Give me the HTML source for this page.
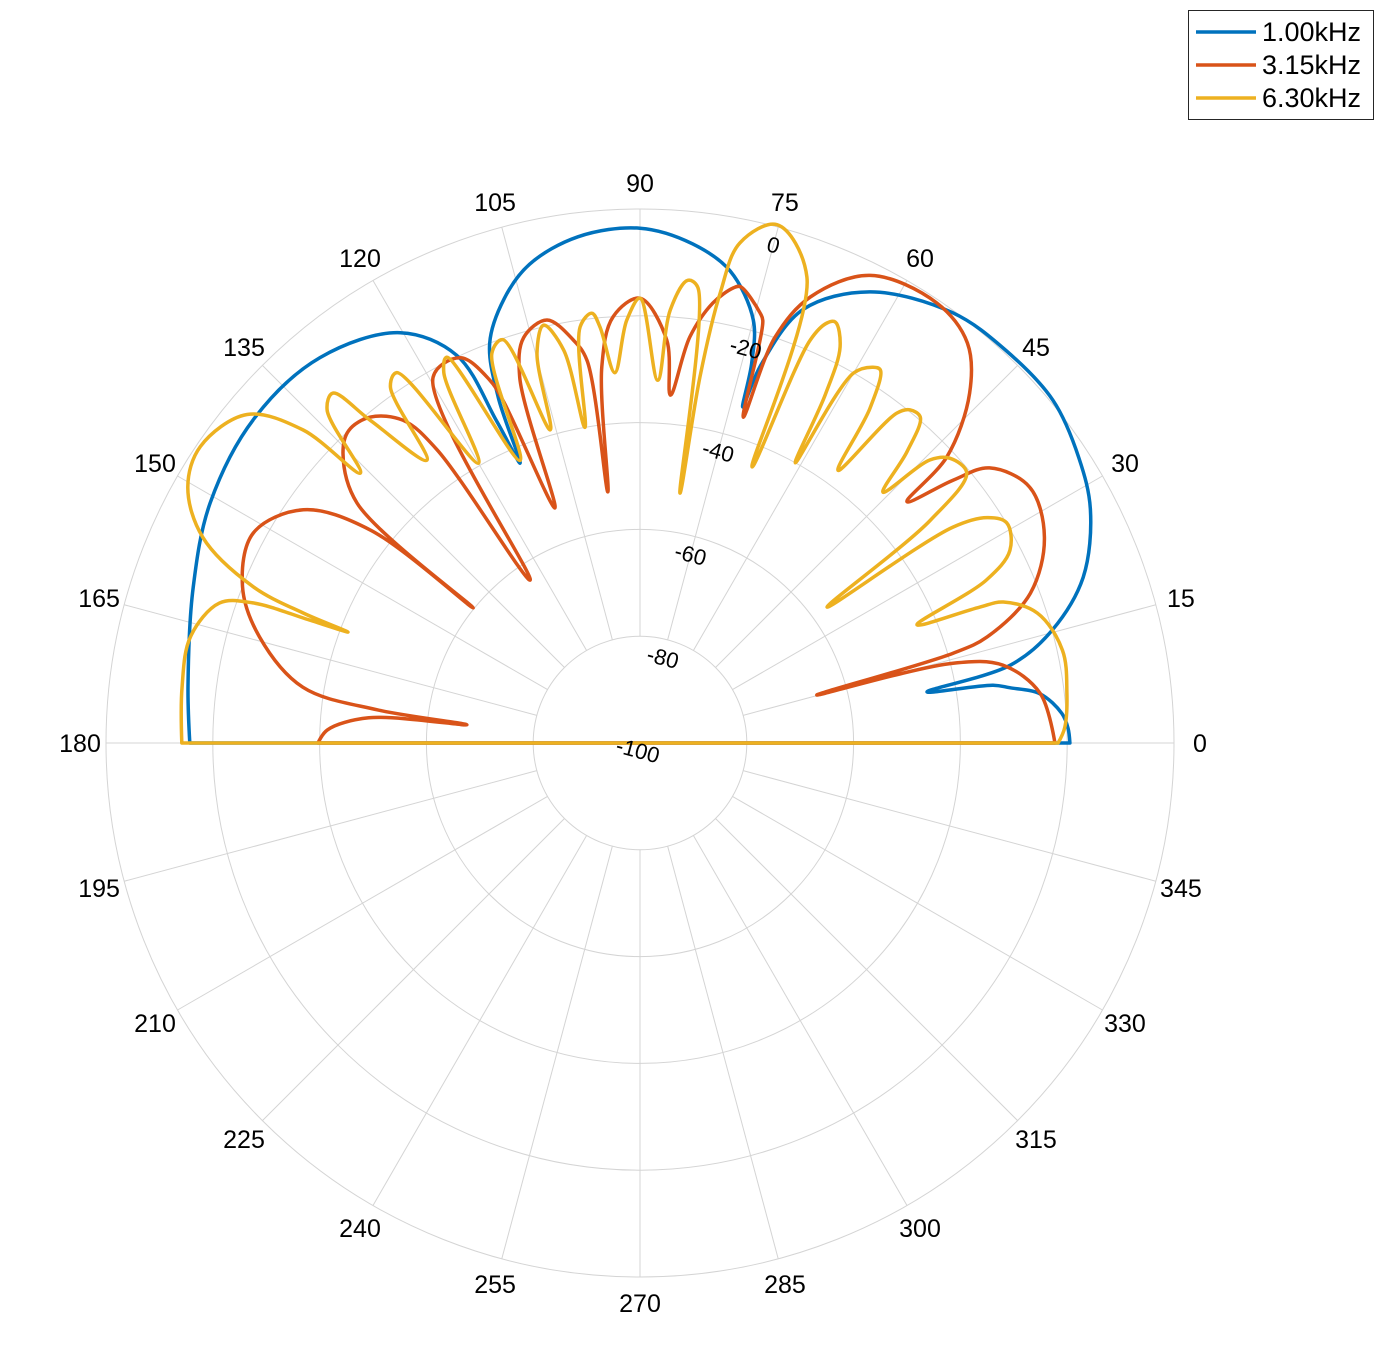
<!DOCTYPE html>
<html><head><meta charset="utf-8"><style>
html,body{margin:0;padding:0;background:#fff;}
svg{display:block;font-family:"Liberation Sans",Arial,sans-serif;}
</style></head><body>
<svg id="chart" width="1386" height="1348" viewBox="0 0 1386 1348">
<g id="grid"></g>
<g id="thetaLabels"></g>
<g id="series"></g>
<g id="rLabels"></g>
<g id="legend">
<rect x="1188.5" y="10.5" width="185" height="109" fill="#fff" stroke="#262626" stroke-width="1"/>
<g><line x1="1196" y1="32" x2="1256" y2="32" stroke="#0072BD" stroke-width="3.5"/><text x="1262" y="41" font-size="27" fill="#000">1.00kHz</text></g>
<g><line x1="1196" y1="65" x2="1256" y2="65" stroke="#D95319" stroke-width="3.5"/><text x="1262" y="74" font-size="27" fill="#000">3.15kHz</text></g>
<g><line x1="1196" y1="98" x2="1256" y2="98" stroke="#EDB120" stroke-width="3.5"/><text x="1262" y="107" font-size="27" fill="#000">6.30kHz</text></g>
</g>
</svg>
<script>
const rTicks = [-100, -80, -60, -40, -20, 0];
const thetaTicks = [0,15,30,45,60,75,90,105,120,135,150,165,180,195,210,225,240,255,270,285,300,315,330,345];
const blueAngles = [0,2,4,7,8.5,9.3,10.1,11.9,15.3,20.5,27.4,33,39.7,47,54,63,69.4,72.3,73,73.6,75,79.2,84,90,97,103,107,110.6,112.3,113.2,114,115.3,120.3,129.7,140,150.8,160.8,172.9,180];
const blueDb = [-19.5,-19.8,-20.8,-24.5,-30,-33,-45.4,-29,-20,-11.4,-5,-2,0.5,0.5,-0.4,-5.2,-13.3,-26,-34.2,-26,-18,-10,-6,-3.6,-4.5,-8,-13,-20,-30,-43,-34,-19.7,-11,-6.2,-5.6,-7.8,-11.4,-14.7,-15.7];
const redAngles = [0,7.1,12.1,14.3,15.2,16,17,21,27,33.3,38.2,40,42.1,43,46.7,50.7,56,63.8,69.1,71.6,72.4,73.8,74.4,77.6,78.4,80.6,83,85,86.2,90,93.6,95.8,97.3,97.9,99.4,102.4,106,108.2,109.9,111.8,112.5,115,119.5,124,124.7,126.3,129.6,133,135.7,139.7,141,141.7,145.3,151.5,158.5,164.4,170.6,172.8,174,174.7,177.6,180];
const redDb = [-22.3,-24.5,-30.5,-39.5,-65.7,-39,-32,-21.7,-15,-12.7,-16.7,-23.4,-32.6,-21.4,-10,-3.2,-0.6,-2.4,-10.6,-20,-36,-17.6,-16.4,-12.5,-13,-16.5,-23.4,-34.6,-24.4,-16.7,-20,-29.2,-52.6,-27.6,-23.5,-18.9,-21,-27.9,-53.2,-31,-26.4,-20.4,-21.3,-63.2,-33,-25,-20.8,-20,-22.3,-30.5,-59.8,-35.6,-23.3,-17.6,-20,-26,-36,-50.4,-67.4,-49,-41.4,-39.7];
const yellowAngles = [0,2.1,6.7,12.4,18.1,21.2,21.8,23.1,25.2,27.5,31,33,34.6,36,37.5,39.6,42.6,44.3,45.9,47.5,49.3,51,52.1,54,55.5,57.2,58.2,60,61,62,63.2,65.1,66,67.1,67.9,70.3,75.2,78.7,79.9,80.7,80.9,82.8,84.1,86,87.2,90,91.8,93.9,95.5,96.4,98.2,99.9,101,103,104.8,106,108.8,110.8,113,116.6,117.9,120,123.3,125,127,129.9,131.3,133.2,136,137.1,140.1,146,150.5,154.8,158,158.9,159.2,159.6,160.1,161.6,166.7,173,180];
const yellowDb = [-21.7,-20.4,-19.5,-19,-21.7,-27,-31.5,-43.6,-28.3,-21.9,-19.9,-22.5,-28.8,-56.7,-31.4,-20.6,-21.2,-24.1,-34.6,-26,-19.5,-19.7,-21.7,-36.9,-24,-16.9,-17.2,-20,-40,-26,-16.9,-13.1,-13.9,-18.1,-44.2,-7.3,0.4,-4.5,-14.4,-30.5,-52.6,-13.9,-12.9,-18.7,-32,-16.7,-20.8,-30.5,-21.7,-19,-21.3,-40,-25,-19.7,-24.5,-39,-20.2,-21.9,-42.5,-19.2,-21.5,-39.5,-17,-18.5,-33.7,-21.2,-12.8,-14.4,-27.2,-13.9,-4.1,-0.7,-2.7,-9.5,-21.9,-32.4,-41.5,-34,-22.9,-17,-13.5,-13.6,-14.2];

const NS = "http://www.w3.org/2000/svg";
const CX = 640, CY = 743, RMAX = 534, RMIN_DB = -100, RMAX_DB = 0;
function rScale(db){ return (db - RMIN_DB) / (RMAX_DB - RMIN_DB) * RMAX; }
function px(deg, db){ const a = deg*Math.PI/180, r = rScale(db); return [CX + r*Math.cos(a), CY - r*Math.sin(a)]; }
function mk(tag, attrs, parent){ const e = document.createElementNS(NS, tag); for (const k in attrs) e.setAttribute(k, attrs[k]); parent.appendChild(e); return e; }

const grid = document.getElementById('grid');
rTicks.forEach(function(t){
  if (t === RMIN_DB) return;
  const c = mk('circle', {cx: CX, cy: CY, r: rScale(t), fill: 'none', stroke: '#d4d4d4', 'stroke-width': 1}, grid);
  
  
});
thetaTicks.forEach(function(t){
  const p1 = px(t, rTicks[1]), p2 = px(t, RMAX_DB);
  const l = mk('line', {x1: p1[0], y1: p1[1], x2: p2[0], y2: p2[1], stroke: '#d4d4d4', 'stroke-width': 1}, grid);
  
  
});
const tl = document.getElementById('thetaLabels');
thetaTicks.forEach(function(t){
  const a = t*Math.PI/180, r = 560;
  const e = mk('text', {x: CX + r*Math.cos(a), y: CY - r*Math.sin(a) + 9, 'text-anchor': 'middle', 'font-size': 25, fill: '#000'}, tl);
  e.textContent = String(t);
  
  
});
const rl = document.getElementById('rLabels');
rTicks.forEach(function(t){
  let x, y;
  if (t === RMIN_DB) { x = 638; y = 750; }
  else { const a = 75*Math.PI/180, r = rScale(t) - 18; x = CX + r*Math.cos(a); y = CY - r*Math.sin(a); }
  const e = mk('text', {x: x, y: y + 8, 'text-anchor': 'middle', 'font-size': 22, fill: '#000', transform: 'rotate(15 ' + x + ' ' + y + ')'}, rl);
  e.textContent = String(t);
  
  
});
function smoothPath(pts){
  let d = 'M' + pts[0][0].toFixed(1) + ',' + pts[0][1].toFixed(1);
  const A = 0.5;
  for (let i = 0; i < pts.length - 1; i++){
    const p0 = pts[Math.max(0, i-1)], p1 = pts[i], p2 = pts[i+1], p3 = pts[Math.min(pts.length-1, i+2)];
    const dist = function(a, b){ return Math.max(1e-3, Math.hypot(a[0]-b[0], a[1]-b[1])); };
    const d1 = Math.pow(dist(p0,p1), A), d2 = Math.pow(dist(p1,p2), A), d3 = Math.pow(dist(p2,p3), A);
    let b1, b2;
    if (p0 === p1) b1 = p1; else b1 = [0,1].map(function(k){ return (d1*d1*p2[k] - d2*d2*p0[k] + (2*d1*d1 + 3*d1*d2 + d2*d2)*p1[k]) / (3*d1*(d1+d2)); });
    if (p3 === p2) b2 = p2; else b2 = [0,1].map(function(k){ return (d3*d3*p1[k] - d2*d2*p3[k] + (2*d3*d3 + 3*d3*d2 + d2*d2)*p2[k]) / (3*d3*(d3+d2)); });
    d += 'C' + b1[0].toFixed(1) + ',' + b1[1].toFixed(1) + ' ' + b2[0].toFixed(1) + ',' + b2[1].toFixed(1) + ' ' + p2[0].toFixed(1) + ',' + p2[1].toFixed(1);
  }
  return d;
}
const sg = document.getElementById('series');
function drawSeries(angles, dbs, color, name){
  const pts = angles.map(function(a, i){ return px(a, dbs[i]); });
  const d = smoothPath(pts) + 'L' + CX + ',' + CY + 'Z';
  const p = mk('path', {d: d, fill: 'none', stroke: color, 'stroke-width': 3.5, 'stroke-linejoin': 'round'}, sg);
  
  
}
drawSeries(blueAngles, blueDb, '#0072BD', 'series-1khz');
drawSeries(redAngles, redDb, '#D95319', 'series-3khz');
drawSeries(yellowAngles, yellowDb, '#EDB120', 'series-6khz');
</script>
</body></html>
